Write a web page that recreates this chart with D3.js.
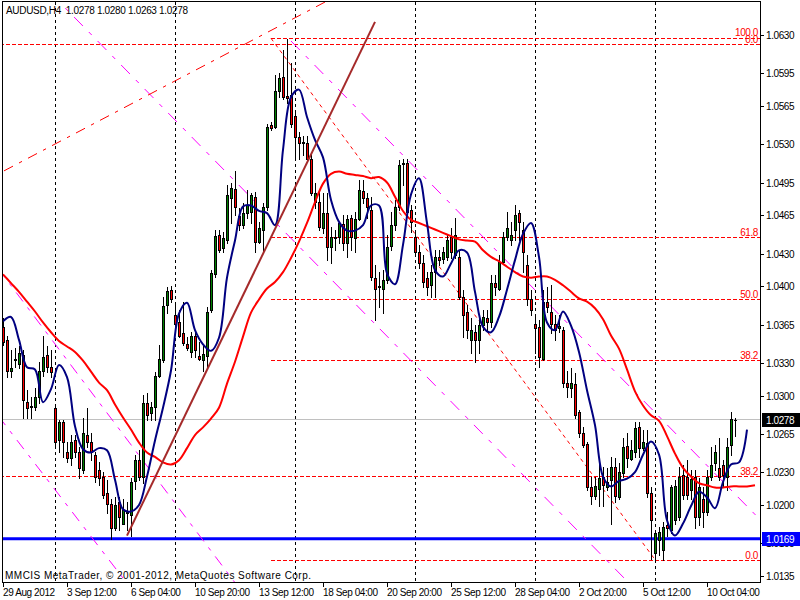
<!DOCTYPE html>
<html><head><meta charset="utf-8">
<script src="https://cdn.jsdelivr.net/npm/d3@7/dist/d3.min.js"></script>
<style>body{margin:0;background:#fff;}svg{display:block;}text{font-family:"Liberation Sans",Arial,sans-serif;}</style>
</head><body><svg id="c" width="800" height="600"></svg>
<script>
// ---------- DATA ----------
const symbolTitle = "AUDUSD,H4  1.0278 1.0280 1.0263 1.0278";
const copyright = "MMCIS MetaTrader, \u00A9 2001-2012, MetaQuotes Software Corp.";

const open = [1.0363,1.0351,1.0323,1.0333,1.0329,1.0337,1.0294,1.0291,1.0290,1.0299,
1.0323,1.0337,1.0326,1.0289,1.0259,1.0276,1.0248,1.0243,1.0259,1.0248,
1.0232,1.0264,1.0258,1.0246,1.0232,1.0226,1.0211,1.0201,1.0179,1.0203,
1.0183,1.0194,1.0191,1.0222,1.0241,1.0226,1.0293,1.0284,1.0290,1.0318,
1.0333,1.0383,1.0397,1.0374,1.0367,1.0357,1.0347,1.0340,1.0355,1.0336,
1.0333,1.0336,1.0378,1.0411,1.0447,1.0435,1.0442,1.0481,1.0489,1.0464,
1.0456,1.0467,1.0468,1.0482,1.0441,1.0452,1.0473,1.0548,1.0546,1.0579,
1.0592,1.0574,1.0575,1.0556,1.0537,1.0532,1.0531,1.0517,1.0477,1.0477,
1.0453,1.0467,1.0436,1.0444,1.0445,1.0457,1.0440,1.0463,1.0444,1.0462,
1.0487,1.0481,1.0470,1.0408,1.0400,1.0398,1.0406,1.0437,1.0456,1.0473,
1.0513,1.0513,1.0470,1.0445,1.0431,1.0421,1.0408,1.0401,1.0413,1.0427,
1.0425,1.0427,1.0445,1.0429,1.0427,1.0390,1.0377,1.0351,1.0358,1.0351,
1.0365,1.0371,1.0367,1.0403,1.0398,1.0422,1.0445,1.0442,1.0452,1.0467,
1.0452,1.0420,1.0388,1.0366,1.0363,1.0334,1.0386,1.0377,1.0366,1.0362,
1.0360,1.0312,1.0307,1.0311,1.0285,1.0266,1.0256,1.0216,1.0208,1.0215,
1.0226,1.0216,1.0223,1.0235,1.0207,1.0229,1.0254,1.0242,1.0248,1.0271,
1.0252,1.0257,1.0211,1.0156,1.0168,1.0159,1.0182,1.0177,1.0186,1.0189,
1.0227,1.0226,1.0214,1.0226,1.0189,1.0205,1.0194,1.0226,1.0238,1.0234,
1.0237,1.0226,1.0255,1.0278];

const high = [1.0371,1.0355,1.0342,1.0344,1.0345,1.0342,1.0305,1.0299,1.0307,1.0331,
1.0355,1.0345,1.0342,1.0291,1.0278,1.0278,1.0258,1.0264,1.0264,1.0253,
1.0280,1.0289,1.0266,1.0248,1.0239,1.0230,1.0223,1.0205,1.0207,1.0207,
1.0205,1.0203,1.0225,1.0246,1.0250,1.0301,1.0302,1.0294,1.0322,1.0346,
1.0390,1.0399,1.0400,1.0383,1.0378,1.0386,1.0354,1.0358,1.0358,1.0349,
1.0346,1.0381,1.0415,1.0452,1.0452,1.0450,1.0493,1.0495,1.0506,1.0472,
1.0476,1.0488,1.0485,1.0486,1.0459,1.0476,1.0549,1.0550,1.0593,1.0595,
1.0616,1.0626,1.0604,1.0560,1.0541,1.0538,1.0538,1.0522,1.0495,1.0488,
1.0485,1.0485,1.0454,1.0452,1.0459,1.0465,1.0465,1.0465,1.0468,1.0497,
1.0497,1.0485,1.0482,1.0420,1.0413,1.0415,1.0447,1.0468,1.0479,1.0516,
1.0517,1.0517,1.0474,1.0450,1.0438,1.0429,1.0413,1.0420,1.0433,1.0433,
1.0436,1.0447,1.0453,1.0463,1.0433,1.0397,1.0383,1.0371,1.0365,1.0372,
1.0378,1.0378,1.0410,1.0410,1.0429,1.0450,1.0468,1.0459,1.0474,1.0470,
1.0459,1.0429,1.0397,1.0372,1.0369,1.0397,1.0399,1.0401,1.0374,1.0374,
1.0363,1.0323,1.0325,1.0321,1.0287,1.0271,1.0258,1.0226,1.0226,1.0238,
1.0235,1.0234,1.0244,1.0243,1.0238,1.0261,1.0266,1.0259,1.0276,1.0276,
1.0269,1.0269,1.0216,1.0177,1.0180,1.0184,1.0194,1.0218,1.0223,1.0235,
1.0237,1.0241,1.0232,1.0232,1.0225,1.0216,1.0232,1.0253,1.0255,1.0261,
1.0241,1.0261,1.0285,1.0280];

const low = [1.0346,1.0317,1.0317,1.0326,1.0325,1.0280,1.0280,1.0280,1.0287,1.0293,
1.0318,1.0322,1.0317,1.0252,1.0248,1.0244,1.0239,1.0237,1.0244,1.0225,
1.0229,1.0253,1.0241,1.0221,1.0218,1.0206,1.0193,1.0169,1.0177,1.0177,
1.0183,1.0177,1.0172,1.0215,1.0223,1.0220,1.0278,1.0278,1.0278,1.0317,
1.0331,1.0376,1.0386,1.0357,1.0354,1.0346,1.0342,1.0335,1.0335,1.0333,
1.0323,1.0325,1.0377,1.0409,1.0431,1.0431,1.0440,1.0458,1.0465,1.0452,
1.0453,1.0463,1.0458,1.0431,1.0440,1.0431,1.0470,1.0543,1.0545,1.0573,
1.0571,1.0568,1.0546,1.0516,1.0517,1.0520,1.0514,1.0484,1.0472,1.0452,
1.0449,1.0424,1.0421,1.0433,1.0440,1.0433,1.0427,1.0433,1.0431,1.0461,
1.0476,1.0463,1.0406,1.0369,1.0381,1.0376,1.0403,1.0433,1.0452,1.0470,
1.0493,1.0465,1.0450,1.0429,1.0417,1.0399,1.0392,1.0390,1.0390,1.0420,
1.0421,1.0424,1.0426,1.0426,1.0388,1.0354,1.0353,1.0339,1.0331,1.0339,
1.0360,1.0360,1.0363,1.0392,1.0397,1.0421,1.0442,1.0438,1.0442,1.0442,
1.0413,1.0383,1.0374,1.0339,1.0326,1.0333,1.0377,1.0357,1.0351,1.0358,
1.0308,1.0299,1.0299,1.0280,1.0262,1.0253,1.0214,1.0201,1.0205,1.0199,
1.0199,1.0214,1.0183,1.0203,1.0205,1.0226,1.0235,1.0241,1.0244,1.0244,
1.0250,1.0207,1.0151,1.0150,1.0154,1.0150,1.0172,1.0174,1.0183,1.0186,
1.0205,1.0205,1.0205,1.0179,1.0182,1.0180,1.0191,1.0223,1.0232,1.0223,
1.0216,1.0214,1.0246,1.0263];

const close = [1.0349,1.0323,1.0325,1.0334,1.0339,1.0296,1.0289,1.0290,1.0299,1.0323,
1.0335,1.0326,1.0322,1.0258,1.0276,1.0258,1.0243,1.0258,1.0248,1.0234,
1.0266,1.0258,1.0248,1.0226,1.0225,1.0209,1.0201,1.0179,1.0200,1.0189,
1.0195,1.0193,1.0221,1.0241,1.0226,1.0293,1.0282,1.0290,1.0318,1.0334,
1.0382,1.0396,1.0388,1.0366,1.0355,1.0348,1.0344,1.0355,1.0342,1.0334,
1.0338,1.0377,1.0412,1.0446,1.0433,1.0444,1.0484,1.0490,1.0473,1.0456,
1.0467,1.0474,1.0484,1.0441,1.0453,1.0473,1.0546,1.0545,1.0579,1.0591,
1.0573,1.0572,1.0549,1.0537,1.0531,1.0531,1.0517,1.0485,1.0485,1.0454,
1.0467,1.0436,1.0445,1.0445,1.0458,1.0440,1.0462,1.0445,1.0462,1.0488,
1.0481,1.0473,1.0409,1.0398,1.0399,1.0406,1.0436,1.0456,1.0473,1.0511,
1.0512,1.0468,1.0459,1.0431,1.0421,1.0404,1.0399,1.0413,1.0427,1.0424,
1.0431,1.0442,1.0431,1.0447,1.0390,1.0374,1.0360,1.0360,1.0351,1.0365,
1.0372,1.0367,1.0403,1.0399,1.0422,1.0445,1.0453,1.0447,1.0465,1.0459,
1.0431,1.0388,1.0378,1.0362,1.0335,1.0386,1.0381,1.0366,1.0360,1.0364,
1.0312,1.0308,1.0312,1.0282,1.0266,1.0255,1.0216,1.0208,1.0217,1.0225,
1.0218,1.0221,1.0235,1.0208,1.0230,1.0253,1.0243,1.0250,1.0270,1.0252,
1.0258,1.0211,1.0186,1.0174,1.0175,1.0180,1.0179,1.0216,1.0217,1.0226,
1.0209,1.0209,1.0224,1.0189,1.0216,1.0194,1.0226,1.0237,1.0248,1.0226,
1.0227,1.0253,1.0279,1.0278];

// moving averages, one reading every maStep bars starting at bar 0 (they run past the last bar: shifted)
const maStep = 2;
const fastMA = [1.0368,1.0372,1.0351,1.0326,1.0324,1.0294,1.0306,1.0328,1.0317,1.0272,
1.0251,1.0248,1.0252,1.0250,1.0223,1.0196,1.0194,1.0200,1.0226,1.0259,
1.0289,1.0323,1.0375,1.0385,1.0360,1.0347,1.0341,1.0353,1.0408,1.0442,
1.0473,1.0474,1.0469,1.0467,1.0456,1.0525,1.0573,1.0580,1.0555,1.0534,
1.0518,1.0479,1.0459,1.0451,1.0451,1.0456,1.0474,1.0474,1.0412,1.0402,
1.0438,1.0484,1.0499,1.0458,1.0415,1.0409,1.0421,1.0433,1.0431,1.0395,
1.0363,1.0358,1.0372,1.0397,1.0424,1.0448,1.0458,1.0427,1.0367,1.0360,
1.0377,1.0364,1.0340,1.0305,1.0273,1.0226,1.0217,1.0222,1.0224,1.0230,
1.0246,1.0258,1.0246,1.0186,1.0172,1.0183,1.0199,1.0212,1.0207,1.0197,
1.0221,1.0237,1.0239,1.0269];
const slowMA = [1.0411,1.0403,1.0395,1.0386,1.0377,1.0367,1.0358,1.0350,1.0345,1.0340,
1.0332,1.0322,1.0312,1.0305,1.0292,1.0280,1.0269,1.0257,1.0248,1.0244,
1.0239,1.0237,1.0241,1.0252,1.0264,1.0271,1.0279,1.0289,1.0311,1.0331,
1.0354,1.0376,1.0388,1.0398,1.0404,1.0413,1.0426,1.0441,1.0458,1.0477,
1.0494,1.0503,1.0505,1.0503,1.0502,1.0501,1.0499,1.0500,1.0495,1.0482,
1.0469,1.0461,1.0458,1.0455,1.0452,1.0449,1.0446,1.0443,1.0442,1.0441,
1.0433,1.0427,1.0423,1.0418,1.0413,1.0409,1.0408,1.0409,1.0409,1.0406,
1.0401,1.0395,1.0389,1.0386,1.0380,1.0370,1.0355,1.0343,1.0324,1.0304,
1.0291,1.0282,1.0277,1.0263,1.0247,1.0234,1.0226,1.0220,1.0218,1.0216,
1.0216,1.0217,1.0217,1.0217,1.0218];

const xTickBars = [0,16,32,48,64,80,96,112,128,144,160,176];
const xTickLabels = ["29 Aug 2012","3 Sep 12:00","6 Sep 04:00","10 Sep 20:00","13 Sep 12:00","18 Sep 04:00",
  "20 Sep 20:00","25 Sep 12:00","28 Sep 04:00","2 Oct 20:00","5 Oct 12:00","10 Oct 04:00"];
const gridBars = [13,43,73,103,133,163];
const yTickValues = [1.0630,1.0595,1.0565,1.0530,1.0495,1.0465,1.0430,1.0400,1.0365,1.0330,1.0300,1.0265,1.0230,1.0200,1.0165,1.0135];

const bidPrice = 1.0278;
const levelLine = 1.0169;

// Fibonacci objects: [startBar, price at level 0, price at level 100]
const fibLevels = [0, 38.2, 50, 61.8, 100];
const fibA = [-5, 1.0622, 0.9587];
const fibB = [67, 1.0150, 1.0627];
const fibBDiagonal = [67, 1.0627, 163, 1.0150];

// trend lines: [bar1, price1, bar2, price2, kind]
const brownTrend = [31, 1.0172, 93, 1.0642, "segment"];
const redDashDot = [0, 1.05052, 80, 1.06592, "line"];
const magentaLines = [
  [0, 1.04104, 56, 1.01386, "line"],
  [0, 1.02759, 30, 1.01331, "line"],
  [0, 1.07128, 150, 1.01528, "line"],
  [72, 1.06245, 183, 1.02100, "ray"]
];

// ---------- DRAWING ----------
const svg = d3.select("#c");
const nBars = open.length;
const x = d3.scaleLinear().domain([0, nBars - 1]).range([3, 735]);
const y = d3.scaleLinear().domain([1.0135, 1.0630]).range([576, 35]);
const PL = 2.5, PR = 760.5, PT = 1.5, PB = 582.5;
const font = "10px";
const tight = "-0.4px";

svg.append("rect").attr("width", 800).attr("height", 600).attr("fill", "#fff");
svg.append("defs").append("clipPath").attr("id", "clip")
  .append("rect").attr("x", 3).attr("y", 2).attr("width", 757).attr("height", 580);
const g = svg.append("g").attr("clip-path", "url(#clip)");

// vertical grid
g.selectAll("line.grid").data(gridBars).join("line").attr("class", "grid")
  .attr("x1", d => Math.round(x(d)) + 0.5).attr("x2", d => Math.round(x(d)) + 0.5)
  .attr("y1", 2).attr("y2", 582).attr("stroke", "#000").attr("stroke-width", 1)
  .attr("stroke-dasharray", "3,3");

function dashScaled(x1, y1, x2, y2, pattern) {
  const dx = Math.abs(x2 - x1), dy = Math.abs(y2 - y1);
  const major = Math.max(dx, dy), len = Math.hypot(dx, dy);
  const f = major > 0 ? len / major : 1;
  return pattern.map(v => (v * f).toFixed(2)).join(",");
}
function drawObj(spec, color, width, pattern) {
  const [b1, p1, b2, p2, kind] = spec;
  let x1 = x(b1), y1 = y(p1), x2 = x(b2), y2 = y(p2);
  const m = (y2 - y1) / (x2 - x1);
  if (kind === "line") { const nx1 = -20, nx2 = 820; y1 = y1 + m * (nx1 - x1); y2 = y1 + m * (nx2 - nx1); x1 = nx1; x2 = nx2; }
  else if (kind === "ray") { const nx2 = 820; y2 = y1 + m * (nx2 - x1); x2 = nx2; }
  const l = g.append("line").attr("x1", x1).attr("y1", y1).attr("x2", x2).attr("y2", y2)
    .attr("stroke", color).attr("stroke-width", width);
  if (pattern) l.attr("stroke-dasharray", dashScaled(x1, y1, x2, y2, pattern));
}

// horizontal price lines
g.append("line").attr("x1", 0).attr("x2", 760).attr("y1", Math.round(y(bidPrice)) - 0.5).attr("y2", Math.round(y(bidPrice)) - 0.5)
  .attr("stroke", "#c0c0c0").attr("stroke-width", 1);
g.append("line").attr("x1", 0).attr("x2", 760).attr("y1", y(levelLine)).attr("y2", y(levelLine))
  .attr("stroke", "#0000ff").attr("stroke-width", 3);

// Fibonacci levels
function drawFib(fib, dyLabel) {
  const [bar0, p0, p100] = fib;
  fibLevels.forEach(lv => {
    const p = p0 + (p100 - p0) * lv / 100;
    const yy = Math.round(y(p)) + 0.5;
    if (yy < 2 || yy > 582) return;
    g.append("line").attr("x1", Math.max(0, x(bar0))).attr("x2", 760).attr("y1", yy).attr("y2", yy)
      .attr("stroke", "#ff0000").attr("stroke-width", 1).attr("stroke-dasharray", "4,2");
    svg.append("text").attr("x", 758).attr("y", yy - 2 - (lv === 100 ? dyLabel : 0)).attr("text-anchor", "end")
      .attr("font-size", font).attr("letter-spacing", tight).attr("fill", "#ff0000").text(lv.toFixed(1));
  });
}
drawFib(fibA, 0);
drawFib(fibB, 1);
drawObj([...fibBDiagonal, "segment"], "#ff0000", 1, [3, 3]);

// magenta channel lines and red dash-dot line
magentaLines.forEach(s => drawObj(s, "#ff00ff", 1, [9, 6, 3, 6]));
drawObj(redDashDot, "#ff0000", 1, [9, 6, 3, 6]);

// candles
const bars = d3.range(nBars).map(i => ({ i, o: open[i], h: high[i], l: low[i], c: close[i] }));
const cg = g.append("g");
bars.forEach(d => {
  const cx = Math.round(x(d.i));
  const yh = Math.round(y(d.h)), yl = Math.round(y(d.l));
  const yo = Math.round(y(d.o)), yc = Math.round(y(d.c));
  cg.append("line").attr("x1", cx + 0.5).attr("x2", cx + 0.5).attr("y1", yh).attr("y2", yl + 1)
    .attr("stroke", "#000").attr("stroke-width", 1);
  const top = Math.min(yo, yc), bot = Math.max(yo, yc);
  if (bot - top < 1) {
    cg.append("line").attr("x1", cx - 1).attr("x2", cx + 2).attr("y1", top + 0.5).attr("y2", top + 0.5)
      .attr("stroke", "#000");
  } else {
    cg.append("rect").attr("x", cx - 0.5).attr("y", top + 0.5).attr("width", 2).attr("height", bot - top)
      .attr("fill", d.c >= d.o ? "#008000" : "#ff0000").attr("stroke", "#000").attr("stroke-width", 1);
  }
});

// moving averages
const maLine = d3.line().x((d, k) => x(k * maStep)).y(d => y(d)).curve(d3.curveCatmullRom.alpha(0.5));
g.append("path").attr("d", maLine(slowMA)).attr("fill", "none").attr("stroke", "#ff0000").attr("stroke-width", 2);
g.append("path").attr("d", maLine(fastMA)).attr("fill", "none").attr("stroke", "#000080").attr("stroke-width", 2);

// brown trend line
drawObj(brownTrend, "#a52a2a", 2, null);

// frame & axes
svg.append("rect").attr("x", PL).attr("y", PT).attr("width", PR - PL).attr("height", PB - PT)
  .attr("fill", "none").attr("stroke", "#000").attr("stroke-width", 1);

const ya = svg.append("g");
yTickValues.forEach(v => {
  const yy = Math.round(y(v)) + 0.5;
  ya.append("line").attr("x1", 760).attr("x2", 764).attr("y1", yy).attr("y2", yy).attr("stroke", "#000");
  ya.append("text").attr("x", 766).attr("y", yy + 3.5).attr("font-size", font).attr("letter-spacing", tight)
    .attr("fill", "#000").text(v.toFixed(4));
});
// price boxes
function priceBox(p, bg) {
  const yy = Math.round(y(p));
  svg.append("rect").attr("x", 762).attr("y", yy - 7).attr("width", 38).attr("height", 14).attr("fill", bg);
  svg.append("text").attr("x", 766).attr("y", yy + 3.5).attr("font-size", font).attr("letter-spacing", tight)
    .attr("fill", "#fff").text(p.toFixed(4));
}
priceBox(bidPrice, "#000");
priceBox(levelLine, "#0000ff");

const xa = svg.append("g");
xTickBars.forEach((b, k) => {
  const xx = Math.round(x(b)) + 0.5;
  xa.append("line").attr("x1", xx).attr("x2", xx).attr("y1", 582).attr("y2", 587).attr("stroke", "#000");
  xa.append("text").attr("x", xx - 0.5).attr("y", 596).attr("font-size", font).attr("letter-spacing", tight)
    .attr("fill", "#000").text(xTickLabels[k]);
});

svg.append("text").attr("x", 6).attr("y", 14).attr("font-size", font).attr("fill", "#000")
  .attr("textLength", 182).attr("lengthAdjust", "spacing")
  .style("white-space", "pre").text(symbolTitle);
svg.append("text").attr("x", 5).attr("y", 579).attr("font-size", font).attr("fill", "#000")
  .attr("textLength", 306).attr("lengthAdjust", "spacing").text(copyright);
</script>
</body></html>
